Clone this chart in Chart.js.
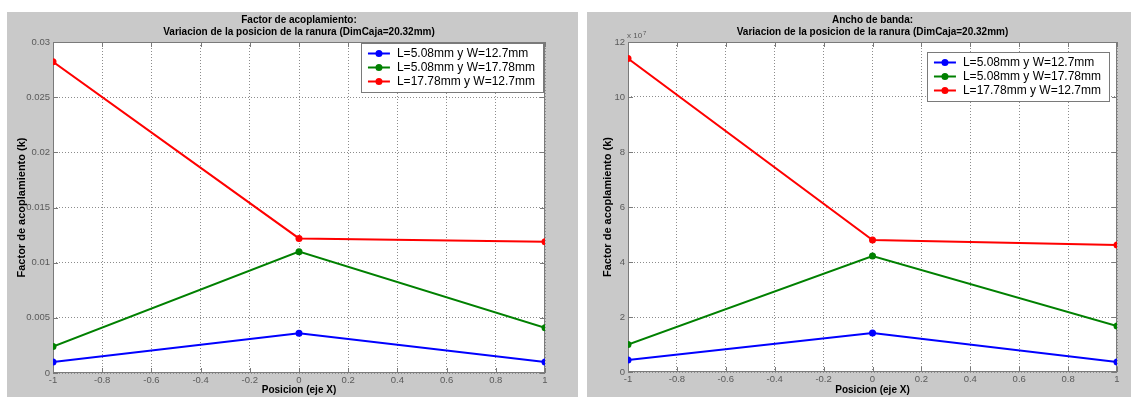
<!DOCTYPE html>
<html>
<head>
<meta charset="utf-8">
<script src="https://cdn.jsdelivr.net/npm/chart.js@4.4.1/dist/chart.umd.min.js"></script>
<style>
  body { margin: 0; background: #fff; width: 1131px; height: 397px; position: relative; overflow: hidden; }
  .fig { position: absolute; top: 12px; height: 385px; background: #c9c9c9; }
  #f1 { left: 7px; width: 571px; }
  #f2 { left: 587px; width: 544px; }
</style>
</head>
<body>
<div class="fig" id="f1"><canvas id="c1"></canvas></div>
<div class="fig" id="f2"><canvas id="c2"></canvas></div>
<script>
// posicion de la ranura (eje X)
const posX = [-1, 0, 1];
const seriesNames = ['L=5.08mm y W=12.7mm', 'L=5.08mm y W=17.78mm', 'L=17.78mm y W=12.7mm'];
const seriesColors = ['#0000ff', '#008000', '#ff0000'];

// factor de acoplamiento (k)
const kBlue = [0.0010, 0.0036, 0.0010];
const kGreen = [0.0024, 0.0110, 0.0041];
const kRed = [0.0282, 0.0122, 0.0119];

// ancho de banda
const bwBlue = [0.44e7, 1.42e7, 0.36e7];
const bwGreen = [1.00e7, 4.22e7, 1.67e7];
const bwRed = [11.40e7, 4.80e7, 4.62e7];

const FONT = '"Liberation Sans", Arial, sans-serif';
const tickGray = '#5a5a5a';
const gridGray = '#8c8c8c';
const frameGray = '#7a7a7a';

Chart.defaults.font.family = FONT;

// MATLAB-like axes: white box, frame, inward ticks, title, legend box
const matlabAxes = {
  id: 'matlabAxes',
  beforeDraw(chart, args, opts) {
    const { ctx, chartArea: a } = chart;
    ctx.save();
    ctx.fillStyle = '#fff';
    ctx.fillRect(a.left, a.top, a.right - a.left, a.bottom - a.top);
    ctx.fillStyle = '#000';
    ctx.font = 'bold 10px ' + FONT;
    ctx.textAlign = 'center';
    ctx.textBaseline = 'middle';
    const cx = (a.left + a.right) / 2;
    opts.title.forEach((t, i) => ctx.fillText(t, cx, opts.titleY + i * 12));
    if (opts.exponent) {
      ctx.fillStyle = tickGray;
      ctx.textAlign = 'left';
      ctx.font = '8px ' + FONT;
      ctx.fillText('x 10', a.left - 1, a.top - 6);
      const w = ctx.measureText('x 10').width;
      ctx.font = '6px ' + FONT;
      ctx.fillText(opts.exponent, a.left + w, a.top - 9);
    }
    ctx.restore();
  },
  beforeDatasetsDraw(chart) {
    const { ctx, chartArea: a, scales } = chart;
    ctx.save();
    ctx.strokeStyle = frameGray;
    ctx.lineWidth = 1;
    ctx.strokeRect(a.left + 0.5, a.top + 0.5, a.right - a.left - 1, a.bottom - a.top - 1);
    ctx.beginPath();
    scales.x.ticks.forEach(t => {
      const px = Math.round(scales.x.getPixelForValue(t.value)) + 0.5;
      ctx.moveTo(px, a.top); ctx.lineTo(px, a.top + 5);
      ctx.moveTo(px, a.bottom); ctx.lineTo(px, a.bottom - 5);
    });
    scales.y.ticks.forEach(t => {
      const py = Math.round(scales.y.getPixelForValue(t.value)) + 0.5;
      ctx.moveTo(a.left, py); ctx.lineTo(a.left + 5, py);
      ctx.moveTo(a.right, py); ctx.lineTo(a.right - 5, py);
    });
    ctx.stroke();
    ctx.restore();
  },
  afterDatasetsDraw(chart, args, opts) {
    const { ctx, chartArea: a } = chart;
    const sets = chart.data.datasets;
    ctx.save();
    ctx.font = '12px ' + FONT;
    const tw = Math.max(...sets.map(d => ctx.measureText(d.label).width));
    const rowH = 14;
    const w = 7 + 22 + 7 + tw + 8;
    const h = sets.length * rowH + 7;
    const x0 = a.right - opts.legendRight - w;
    const y0 = a.top + opts.legendTop;
    ctx.fillStyle = '#fff';
    ctx.fillRect(x0, y0, w, h);
    ctx.strokeStyle = frameGray;
    ctx.lineWidth = 1;
    ctx.strokeRect(Math.round(x0) + 0.5, y0 + 0.5, Math.round(w), h);
    sets.forEach((d, i) => {
      const cy = y0 + 3.5 + rowH * i + rowH / 2;
      ctx.strokeStyle = d.borderColor;
      ctx.lineWidth = 2;
      ctx.beginPath();
      ctx.moveTo(x0 + 7, cy); ctx.lineTo(x0 + 29, cy);
      ctx.stroke();
      ctx.fillStyle = d.borderColor;
      ctx.beginPath();
      ctx.arc(x0 + 18, cy, 3.5, 0, Math.PI * 2);
      ctx.fill();
      ctx.fillStyle = '#000';
      ctx.textAlign = 'left';
      ctx.textBaseline = 'middle';
      ctx.fillText(d.label, x0 + 36, cy + 0.5);
    });
    ctx.restore();
  }
};

function makeSets(values) {
  return values.map((vals, s) => ({
    label: seriesNames[s],
    data: posX.map((x, i) => ({ x, y: vals[i] })),
    borderColor: seriesColors[s],
    backgroundColor: seriesColors[s],
    pointBackgroundColor: seriesColors[s],
    borderWidth: 2,
    pointRadius: 3.5,
    pointBorderWidth: 0,
    tension: 0
  }));
}

function makeChart(id, sets, o) {
  return new Chart(document.getElementById(id), {
    type: 'line',
    data: { datasets: sets },
    plugins: [matlabAxes],
    options: {
      responsive: true,
      maintainAspectRatio: false,
      animation: false,
      devicePixelRatio: 1,
      layout: { padding: { top: 30, right: o.padRight, left: 0, bottom: 0 } },
      plugins: {
        legend: { display: false },
        title: { display: false },
        tooltip: { enabled: false },
        matlabAxes: {
          title: o.title, titleY: 8,
          legendRight: o.legendRight, legendTop: o.legendTop,
          exponent: o.exponent
        }
      },
      scales: {
        x: {
          type: 'linear', min: -1, max: 1,
          ticks: {
            stepSize: 0.2, padding: 2, color: tickGray, font: { size: 9.5 },
            maxRotation: 0, autoSkip: false,
            callback: v => String(Math.round(v * 10) / 10)
          },
          grid: { color: gridGray, drawTicks: false, lineWidth: 1 },
          border: { display: false, dash: [1, 2] },
          title: {
            display: true, text: 'Posicion (eje X)', color: '#000',
            font: { size: 10, weight: 'bold' }, padding: { top: 0, bottom: 1 }
          },
          afterFit: s => { s.height = o.xHeight; }
        },
        y: {
          min: 0, max: o.yMax,
          ticks: {
            stepSize: o.yStep, padding: 3, color: tickGray, font: { size: 9.5 },
            callback: o.yFmt
          },
          grid: { color: gridGray, drawTicks: false, lineWidth: 1 },
          border: { display: false, dash: [1, 2] },
          title: {
            display: true, text: 'Factor de acoplamiento (k)', color: '#000',
            font: { size: 11, weight: 'bold' }, padding: { top: o.yTitlePad, bottom: 0 }
          },
          afterFit: s => { s.width = o.yWidth; }
        }
      }
    }
  });
}

makeChart('c1', makeSets([kBlue, kGreen, kRed]), {
  title: ['Factor de acoplamiento:', 'Variacion de la posicion de la ranura (DimCaja=20.32mm)'],
  yMax: 0.03, yStep: 0.005, yFmt: v => String(+v.toFixed(3)),
  yWidth: 46, xHeight: 24, padRight: 33, yTitlePad: 8,
  legendRight: 2, legendTop: 1
});

makeChart('c2', makeSets([bwBlue, bwGreen, bwRed]), {
  title: ['Ancho de banda:', 'Variacion de la posicion de la ranura (DimCaja=20.32mm)'],
  yMax: 12e7, yStep: 2e7, yFmt: v => String(Math.round(v / 1e7)),
  yWidth: 41, xHeight: 25, padRight: 14, yTitlePad: 14,
  legendRight: 8, legendTop: 10, exponent: '7'
});
</script>
</body>
</html>
